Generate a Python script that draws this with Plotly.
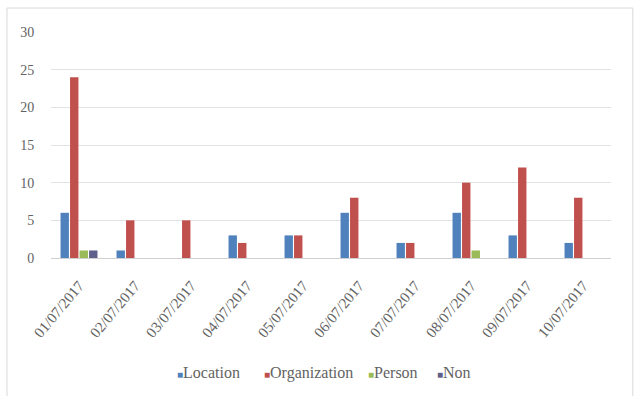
import plotly.graph_objects as go

dates = ["01/07/2017", "02/07/2017", "03/07/2017", "04/07/2017", "05/07/2017",
         "06/07/2017", "07/07/2017", "08/07/2017", "09/07/2017", "10/07/2017"]
location = [6, 1, 0, 3, 3, 6, 2, 6, 3, 2]
organization = [24, 5, 5, 2, 3, 8, 2, 10, 12, 8]
person = [1, 0, 0, 0, 0, 0, 0, 1, 0, 0]
non = [1, 0, 0, 0, 0, 0, 0, 0, 0, 0]
y_ticks = [0, 5, 10, 15, 20, 25, 30]

series = [
    ("Location", location, "#4F81BD"),
    ("Organization", organization, "#C0504D"),
    ("Person", person, "#9BBB59"),
    ("Non", non, "#5E5F8A"),
]

font = "Liberation Serif"
text_color = "#636363"

fig = go.Figure()
for name, vals, color in series:
    fig.add_trace(go.Bar(x=dates, y=vals, name=name, showlegend=False,
                         marker=dict(color=color, line=dict(width=0))))

fig.update_layout(
    width=642, height=396,
    margin=dict(l=51, r=31, t=32, b=138),
    paper_bgcolor="white", plot_bgcolor="white",
    barmode="group", bargap=0.32, bargroupgap=0.12,
    font=dict(family=font, size=14, color=text_color),
    xaxis=dict(type="category", tickangle=-50, showgrid=False, showline=True,
               linecolor="#d0d0d0", linewidth=1, ticks="outside", ticklen=12,
               tickcolor="rgba(0,0,0,0)", tickfont=dict(family=font, size=15, color=text_color)),
    yaxis=dict(range=[0, 30], tickvals=y_ticks, showgrid=True, gridcolor="#e3e3e3",
               zeroline=False, showline=False, ticks="outside", ticklen=13,
               tickcolor="rgba(0,0,0,0)", tickfont=dict(family=font, size=14, color=text_color)),
)

# legend drawn as a row of coloured squares with labels beneath the chart
legend_px = [175, 262, 366, 435]
plot_left, plot_width = 51, 560
for (name, _, color), px in zip(series, legend_px):
    fig.add_annotation(
        x=(px - plot_left) / plot_width, y=-0.508, xref="paper", yref="paper",
        xanchor="left", yanchor="middle", showarrow=False,
        text=f"<span style='color:{color};font-size:10px'>■</span>{name}",
        font=dict(family=font, size=16, color=text_color),
    )

# light outer frame around the chart
fig.add_shape(type="rect", xref="paper", yref="paper",
              x0=-0.0786, x1=1.039, y0=-0.65, y1=1.106,
              line=dict(color="#d9d9d9", width=1), fillcolor="rgba(0,0,0,0)", layer="below")

fig.write_html("out.html")
